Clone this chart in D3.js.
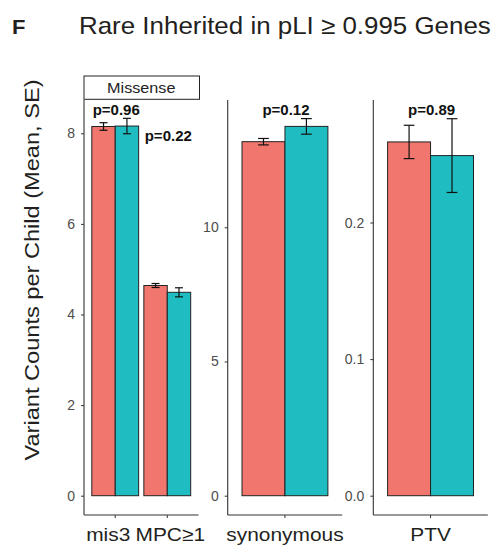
<!DOCTYPE html>
<html>
<head>
<meta charset="utf-8">
<script src="https://cdn.jsdelivr.net/npm/d3@7"></script>
<style>
  html, body { margin: 0; padding: 0; background: #fff; }
  svg { display: block; font-family: "Liberation Sans", Arial, Helvetica, sans-serif; }
</style>
</head>
<body>
<svg id="chart" width="491" height="550"></svg>
<script>
// ---- data ----
const categories = ["mis3", "MPC≥1", "synonymous", "PTV"];
const facetOfCategory = ["Missense", "Missense", "synonymous", "PTV"];
const groups = ["proband", "sibling"];
const probandMean = [8.15, 4.64, 13.19, 0.259];
const probandSE   = [0.084, 0.044, 0.12, 0.0122];
const siblingMean = [8.16, 4.49, 13.76, 0.249];
const siblingSE   = [0.17, 0.10, 0.29, 0.027];
const pLabels = ["p=0.96", "p=0.22", "p=0.12", "p=0.89"];
const pLabelY = [8.33, 7.75, 14.05, 0.276];
const facets = ["Missense", "synonymous", "PTV"];
const facetStrip = ["Missense", null, null];
const facetTicks = [[0, 2, 4, 6, 8], [0, 5, 10], [0.0, 0.1, 0.2]];
const facetTickFormat = ["d", "d", ".1f"];
const facetLimits = [[-0.426, 8.735], [-0.719, 14.743], [-0.01413, 0.2897]];

// ---- layout ----
const svg = d3.select("#chart");
const colors = d3.scaleOrdinal().domain(groups).range(["#F1766E", "#1FBDC1"]);
const panelLeft = [84, 227.7, 373.3];
const panelWidth = 114.5;
const panelTop = 100, panelBottom = 515;
const axisColor = "#333";
const tickColor = "#4d4d4d";
const textColor = "#231f20";
const stretch = 1.1; // glyphs are set slightly wide
// the two missense labels are pushed apart so they don't collide
const tickLabelNudge = { "mis3": -7, "MPC≥1": 3 };

// text placed at (x, y), widened horizontally about its anchor
function wideText(parent, x, y, s, str) {
  return parent.append("text")
    .attr("transform", `translate(${x},${y}) scale(${s},1)`)
    .text(str);
}

// title
wideText(svg, 12, 34, 1.1, "F").attr("font-size", 20).attr("font-weight", "bold").attr("fill", textColor);
wideText(svg, 79, 34, 1.08, "Rare Inherited in pLI ≥ 0.995 Genes").attr("font-size", 24).attr("fill", textColor);

// shared y-axis title
svg.append("text")
  .attr("transform", `translate(39,270) rotate(-90) scale(1.18,1)`)
  .attr("text-anchor", "middle").attr("font-size", 20).attr("fill", textColor)
  .text("Variant Counts per Child (Mean, SE)");

const rows = categories.map((c, i) => ({
  category: c, facet: facetOfCategory[i],
  values: [
    { group: groups[0], mean: probandMean[i], se: probandSE[i] },
    { group: groups[1], mean: siblingMean[i], se: siblingSE[i] }
  ],
  p: pLabels[i], pY: pLabelY[i]
}));

facets.forEach((facet, fi) => {
  const data = rows.filter(r => r.facet === facet);
  const x0 = panelLeft[fi], x1 = x0 + panelWidth;
  const x = d3.scaleBand().domain(data.map(d => d.category))
    .range([x0, x1]).paddingInner(0.1).paddingOuter(0.15);
  const xs = d3.scaleBand().domain(groups).range([0, x.bandwidth()]);
  const y = d3.scaleLinear().domain(facetLimits[fi]).range([panelBottom, panelTop]);

  const g = svg.append("g");

  // bars
  const cat = g.selectAll("g.cat").data(data).join("g")
    .attr("class", "cat").attr("transform", d => `translate(${x(d.category)},0)`);
  cat.selectAll("rect").data(d => d.values).join("rect")
    .attr("x", d => xs(d.group)).attr("width", xs.bandwidth())
    .attr("y", d => y(d.mean)).attr("height", d => y(0) - y(d.mean))
    .attr("fill", d => colors(d.group)).attr("stroke", "#222").attr("stroke-width", 1);

  // error bars
  const capW = Math.max(8, xs.bandwidth() * 0.25);
  const cx = d => xs(d.group) + xs.bandwidth() / 2;
  const eb = cat.selectAll("g.eb").data(d => d.values).join("g").attr("class", "eb")
    .attr("stroke", "#111").attr("stroke-width", 1.2);
  eb.append("line")
    .attr("x1", cx).attr("x2", cx)
    .attr("y1", d => y(d.mean - d.se)).attr("y2", d => y(d.mean + d.se));
  eb.append("line")
    .attr("x1", d => cx(d) - capW / 2).attr("x2", d => cx(d) + capW / 2)
    .attr("y1", d => y(d.mean + d.se)).attr("y2", d => y(d.mean + d.se));
  eb.append("line")
    .attr("x1", d => cx(d) - capW / 2).attr("x2", d => cx(d) + capW / 2)
    .attr("y1", d => y(d.mean - d.se)).attr("y2", d => y(d.mean - d.se));

  // p-value labels (a label sitting below its bars' tops is nudged right of the group)
  g.selectAll("text.p").data(data).join("text").attr("class", "p")
    .attr("x", d => x(d.category) + x.bandwidth() / 2 + (d.pY < d3.max(d.values, v => v.mean) ? 7 : 1))
    .attr("y", d => y(d.pY) - 3.5)
    .attr("text-anchor", "middle").attr("font-size", 15).attr("font-weight", "bold")
    .attr("fill", "#111").text(d => d.p);

  // axes
  const yAxis = d3.axisLeft(y).tickValues(facetTicks[fi])
    .tickFormat(d3.format(facetTickFormat[fi])).tickSize(3).tickPadding(6);
  const ya = svg.append("g").attr("transform", `translate(${x0},0)`).call(yAxis);
  ya.select(".domain").attr("d", `M0,${panelTop}V${panelBottom}`);
  const xAxis = d3.axisBottom(x).tickSize(3).tickPadding(10);
  const xa = svg.append("g").attr("transform", `translate(0,${panelBottom})`).call(xAxis);
  xa.select(".domain").attr("d", `M${x0},0H${x1}`);

  [ya, xa].forEach(a => {
    a.select(".domain").attr("stroke", axisColor).attr("stroke-width", 1.1);
    a.selectAll(".tick line").attr("stroke", axisColor);
  });
  ya.selectAll(".tick text").attr("font-size", 14).attr("fill", tickColor).attr("font-family", null);
  xa.selectAll(".tick text").attr("font-size", 19).attr("fill", textColor).attr("font-family", null)
    .attr("transform", d => `translate(${tickLabelNudge[d] || 0},0) scale(${stretch},1)`);

  // facet strip
  if (facetStrip[fi]) {
    svg.append("rect").attr("x", x0).attr("y", 76).attr("width", x1 - x0 + 1).attr("height", 23.3)
      .attr("fill", "#fff").attr("stroke", "#222").attr("stroke-width", 1);
    wideText(svg, (x0 + x1) / 2, 93, 1.08, facetStrip[fi])
      .attr("text-anchor", "middle").attr("font-size", 15).attr("fill", "#222");
  }
});
</script>
</body>
</html>
